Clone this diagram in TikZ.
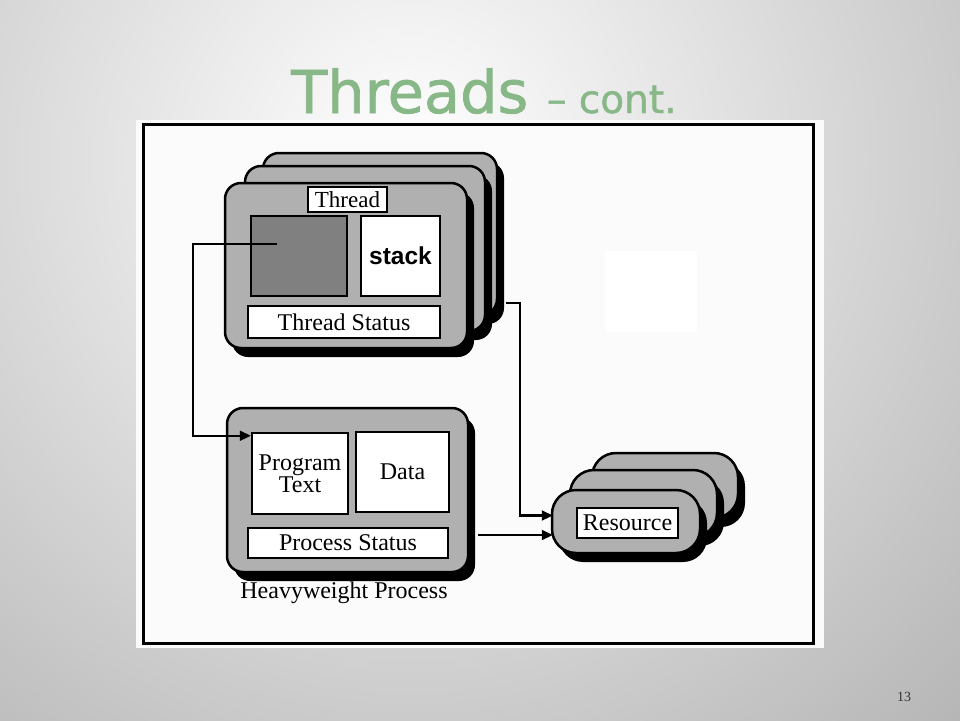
\documentclass[tikz,border=0pt]{standalone}
\usepackage{fontspec}
\setmainfont{Liberation Serif}
\newfontfamily\titlefont[FakeBold=1.2]{DejaVu Sans}
\newfontfamily\stackfont{Liberation Sans}
\usetikzlibrary{arrows.meta,calc,shadows}
\definecolor{boxgray}{HTML}{B0B0B0}
\definecolor{darkgray}{HTML}{808080}
\definecolor{bgouter}{HTML}{A2A2A2}
\definecolor{panelc}{HTML}{FBFBFB}
\definecolor{titlegreen}{HTML}{88B888}
\tikzset{
  roundbox/.style={draw=black, line width=2.5pt, fill=boxgray, rounded corners=16pt, inner sep=0pt,
    drop shadow={shadow xshift=7pt, shadow yshift=-9pt, opacity=1, fill=black}},
  pillbox/.style={roundbox, rounded corners=24pt},
  whitebox/.style={draw=black, line width=2.5pt, fill=white, inner sep=0pt},
  serif24/.style={font=\fontsize{24}{22}\selectfont},
  conn/.style={draw=black, line width=2.2pt, -{Triangle[length=11pt,width=10pt]}},
}
\begin{document}
\begin{tikzpicture}[x=1pt,y=-1pt]
\useasboundingbox (0,0) rectangle (960,720);
% background
\begin{scope}
\clip (0,0) rectangle (960,720);
\fill[bgouter] (0,0) rectangle (960,720);
\shade[inner color=white, outer color=bgouter] (410,160) circle (1000);
\end{scope}
% title
\node[anchor=base west, inner sep=0pt, text=titlegreen] (title) at (291,113)
  {\titlefont{\fontsize{59}{62}\selectfont Threads }{\fontsize{39}{41}\selectfont – cont.}};
% panel
\fill[panelc] (136,120) rectangle (824,648);
\draw[line width=3pt] (143,124) rectangle (813,643);
\fill[white] (605,251) rectangle (697,332);
% thread stack
\node[roundbox, minimum width=234pt, minimum height=162pt] (tb3) at (380,234) {};
\node[roundbox, minimum width=240pt, minimum height=165pt] (tb2) at (365,248.5) {};
\node[roundbox, minimum width=242pt, minimum height=165pt] (tb1) at (346,265.5) {};
\node[whitebox, minimum width=79pt, minimum height=25pt, font=\fontsize{23}{23}\selectfont] (thl) at (347.5,199.5) {Thread};
\node[whitebox, fill=darkgray, minimum width=96pt, minimum height=80pt] (dsq) at (299,256) {};
\node[whitebox, minimum width=79pt, minimum height=80pt, font=\stackfont\bfseries\fontsize{24.5}{24.5}\selectfont] (stk) at (400.5,256) {stack};
\node[whitebox, minimum width=192pt, minimum height=32pt, serif24] (tst) at (344,322) {Thread Status};
% process
\node[roundbox, minimum width=241pt, minimum height=164pt] (pb) at (347.5,490) {};
\node[whitebox, minimum width=96pt, minimum height=81pt, serif24, align=center] (pt) at (300,473.5) {Program\\Text};
\node[whitebox, minimum width=93pt, minimum height=80pt, serif24] (dat) at (402.5,472) {Data};
\node[whitebox, minimum width=200pt, minimum height=30pt, serif24] (pst) at (348,543) {Process Status};
\node[serif24, inner sep=0pt] (hw) at (344,593) {Heavyweight Process};
% resources
\node[pillbox, minimum width=146pt, minimum height=65pt] (r3) at (665,485.5) {};
\node[pillbox, minimum width=147pt, minimum height=67pt] (r2) at (643.5,503.5) {};
\node[pillbox, minimum width=148pt, minimum height=63pt] (r1) at (626,521.5) {};
\node[whitebox, minimum width=101pt, minimum height=30pt, serif24] (rl) at (627.5,523) {Resource};
% connectors
\draw[conn] ($(dsq.center)+(-22,-12)$) -- ++(-84,0) |- ($(pt.north west)+(0,4)$);
\draw[conn] (tb3.east) ++(8,69) -- ++(14,0) |- ($(r1.west)+(2,-6)$);
\draw[conn] ($(pb.east)+(9,45)$) -- ($(r1.west)+(2,13.5)$);
% page number
\node[font=\fontsize{14}{14}\selectfont, text=black!80] (pg) at (904,697) {13};
\end{tikzpicture}
\end{document}
